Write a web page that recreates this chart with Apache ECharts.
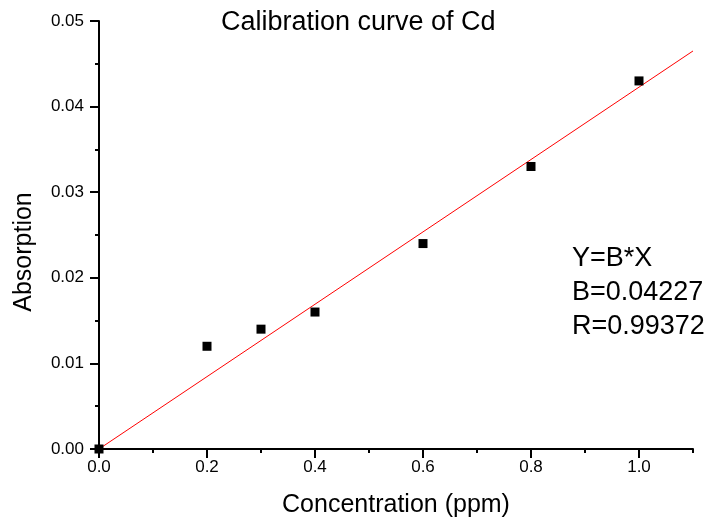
<!DOCTYPE html>
<html>
<head>
<meta charset="utf-8">
<script src="https://cdn.jsdelivr.net/npm/echarts@6/dist/echarts.min.js"></script>
<style>
html,body{margin:0;padding:0;background:#fff;}
#chart{width:712px;height:523px;}
</style>
</head>
<body>
<div id="chart"></div>
<script>
// Data
var concentration = [0, 0.2, 0.3, 0.4, 0.6, 0.8, 1.0];
var absorption = [0, 0.012, 0.014, 0.016, 0.024, 0.033, 0.043];
var fitX = [0, 1.1];
var fitY = [0, 0.0465];
var xMajorTicks = [0, 0.2, 0.4, 0.6, 0.8, 1.0];
var yTicks = [0, 0.01, 0.02, 0.03, 0.04, 0.05];
var titleText = 'Calibration curve of Cd';
var xName = 'Concentration (ppm)';
var yName = 'Absorption';
var annotation = ['Y=B*X', 'B=0.04227', 'R=0.99372'];

var FONT = '"Liberation Sans", Arial, sans-serif';
var chart = echarts.init(document.getElementById('chart'));

var points = concentration.map(function (x, i) { return [x, absorption[i]]; });
var fitLine = fitX.map(function (x, i) { return [x, fitY[i]]; });

var option = {
  backgroundColor: '#fff',
  animation: false,
  title: {
    text: titleText,
    left: 216, top: 4,
    textStyle: { fontFamily: FONT, fontSize: 27, fontWeight: 'normal', color: '#000' }
  },
  grid: { left: 99, right: 19, top: 21, bottom: 74, containLabel: false },
  xAxis: [
    {
      type: 'value', min: 0, max: 1.1, interval: 0.1,
      position: 'bottom',
      axisLine: { show: true, onZero: false, lineStyle: { color: '#000', width: 2 } },
      axisTick: { show: true, inside: false, length: 4, lineStyle: { color: '#000', width: 2 } },
      axisLabel: { show: false },
      splitLine: { show: false },
      z: 5
    },
    {
      type: 'value', min: 0, max: 1.1,
      position: 'bottom', offset: 0,
      axisLine: { show: false },
      axisTick: { show: true, inside: false, length: 9, customValues: xMajorTicks, lineStyle: { color: '#000', width: 2 } },
      axisLabel: {
        show: true, customValues: xMajorTicks, margin: 10,
        fontFamily: FONT, fontSize: 17, color: '#000',
        formatter: function (v) { return v.toFixed(1); }
      },
      splitLine: { show: false },
      name: xName, nameLocation: 'middle', nameGap: 44,
      nameTextStyle: { fontFamily: FONT, fontSize: 25, color: '#000' }
    }
  ],
  yAxis: {
    type: 'value', min: 0, max: 0.05, interval: 0.01,
    customValues: yTicks,
    axisLine: { show: true, onZero: false, lineStyle: { color: '#000', width: 2 } },
    axisTick: { show: true, inside: false, length: 9, lineStyle: { color: '#000', width: 2 } },
    minorTick: { show: true, splitNumber: 2, length: 4, lineStyle: { color: '#000', width: 2 } },
    axisLabel: {
      margin: 15, fontFamily: FONT, fontSize: 17, color: '#000',
      formatter: function (v) { return v.toFixed(2); }
    },
    splitLine: { show: false },
    minorSplitLine: { show: false },
    z: 5
  },
  graphic: [
    {
      type: 'text', x: 24, y: 252, rotation: Math.PI / 2,
      style: { text: yName, fontFamily: FONT, fontSize: 25, fill: '#000', align: 'center', verticalAlign: 'middle' }
    },
    {
      type: 'text', left: 572, top: 242,
      style: { text: annotation.join('\n'), fontFamily: FONT, fontSize: 27, lineHeight: 34, fill: '#000' }
    }
  ],
  series: [
    {
      type: 'line', data: fitLine, xAxisIndex: 0, showSymbol: false, symbol: 'none',
      lineStyle: { color: '#ff0000', width: 1 }, z: 2, silent: true
    },
    {
      type: 'scatter', data: points, xAxisIndex: 0, symbol: 'rect', symbolSize: 9,
      itemStyle: { color: '#000', opacity: 1 }, z: 3
    }
  ]
};
chart.setOption(option);
</script>
</body>
</html>
